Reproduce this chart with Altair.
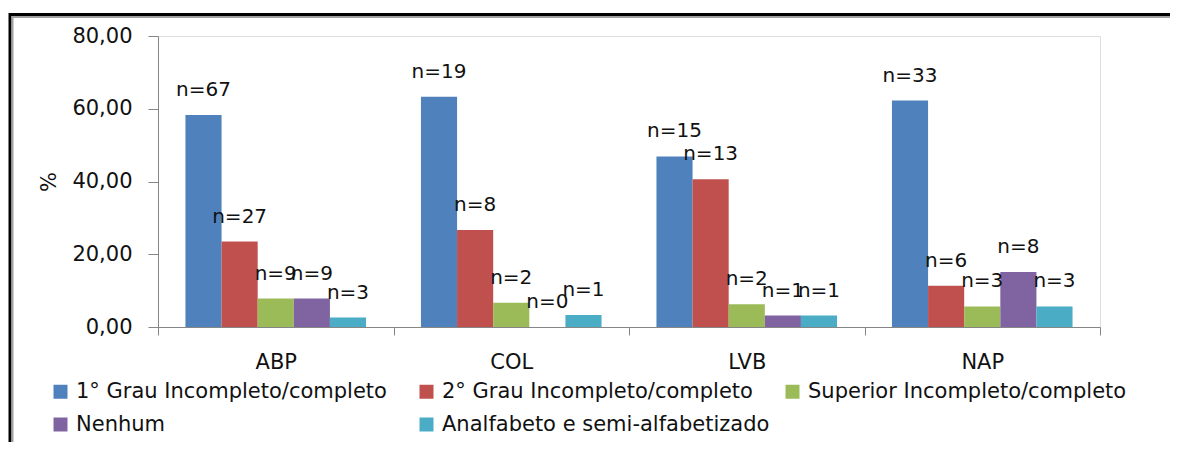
import altair as alt
import pandas as pd

groups = ["ABP", "COL", "LVB", "NAP"]
series = [
    "1° Grau Incompleto/completo",
    "2° Grau Incompleto/completo",
    "Superior Incompleto/completo",
    "Nenhum",
    "Analfabeto e semi-alfabetizado",
]
colors = ["#4F81BD", "#C0504D", "#9BBB59", "#8064A2", "#4BACC6"]

# percentage per series, one value per group (ABP, COL, LVB, NAP)
pct_1grau = [58.26, 63.33, 46.88, 62.26]
pct_2grau = [23.48, 26.67, 40.63, 11.32]
pct_superior = [7.83, 6.67, 6.25, 5.66]
pct_nenhum = [7.83, 0.00, 3.13, 15.09]
pct_analf = [2.61, 3.33, 3.13, 5.66]

n_1grau = [67, 19, 15, 33]
n_2grau = [27, 8, 13, 6]
n_superior = [9, 2, 2, 3]
n_nenhum = [9, 0, 1, 8]
n_analf = [3, 1, 1, 3]

pcts = [pct_1grau, pct_2grau, pct_superior, pct_nenhum, pct_analf]
ns = [n_1grau, n_2grau, n_superior, n_nenhum, n_analf]

rows = []
for si, s in enumerate(series):
    for gi, g in enumerate(groups):
        rows.append({"grupo": g, "serie": s, "pct": pcts[si][gi],
                     "label": f"n={ns[si][gi]}"})
df = pd.DataFrame(rows)

FONT = "DejaVu Sans"
W, H = 942, 291

x_enc = alt.X("grupo:N", sort=groups,
              scale=alt.Scale(paddingInner=0, paddingOuter=0),
              axis=alt.Axis(title=None, labelAngle=0, tickBand="extent",
                            tickSize=8, labelPadding=16, labelFontSize=21,
                            labelFont=FONT, labelColor="#111",
                            domainColor="#868686", tickColor="#868686"))
xo_enc = alt.XOffset("serie:N", sort=series,
                     scale=alt.Scale(paddingOuter=0.76, paddingInner=0))
y_enc = alt.Y("pct:Q",
              scale=alt.Scale(domain=[0, 80], nice=False),
              axis=alt.Axis(title="%", values=[0, 20, 40, 60, 80],
                            labelExpr="replace(format(datum.value, '.2f'), '.', ',')",
                            grid=False, tickSize=10, labelPadding=16,
                            labelFontSize=21, labelFont=FONT, labelColor="#111",
                            titleFontSize=21, titleFont=FONT, titleFontWeight="normal",
                            titleColor="#111", titlePadding=12,
                            domainColor="#868686", tickColor="#868686"))

bars = alt.Chart(df).mark_bar().encode(
    x=x_enc,
    xOffset=xo_enc,
    y=y_enc,
    color=alt.Color("serie:N", sort=series,
                    scale=alt.Scale(domain=series, range=colors),
                    legend=alt.Legend(title=None, orient="none",
                                      legendX=-108, legendY=345,
                                      direction="horizontal",
                                      columns=3, gridAlign="all",
                                      columnPadding=12, rowPadding=11,
                                      symbolType="square", symbolSize=196,
                                      symbolStrokeWidth=0, labelOffset=5,
                                      labelFontSize=21, labelFont=FONT,
                                      labelColor="#111", labelLimit=600)),
)

labels = alt.Chart(df).mark_text(
    baseline="alphabetic", dy=-19, fontSize=20, font=FONT, color="#111"
).encode(
    x=alt.X("grupo:N", sort=groups),
    xOffset=alt.XOffset("serie:N", sort=series),
    y=alt.Y("pct:Q"),
    text="label:N",
)

frame_data = alt.Data(values=[{"k": 1}])
frame_outer = alt.Chart(frame_data).mark_rect(
    filled=False, stroke="#000000", strokeWidth=3
).encode(x=alt.value(-148), x2=alt.value(1300), y=alt.value(-21.5), y2=alt.value(600))
frame_inner = alt.Chart(frame_data).mark_rect(
    filled=False, stroke="#A0A0A0", strokeWidth=2
).encode(x=alt.value(-145.5), x2=alt.value(1300), y=alt.value(-19), y2=alt.value(600))

chart = alt.layer(frame_outer, frame_inner, bars, labels).properties(
    width=W, height=H,
    autosize=alt.AutoSizeParams(type="none"),
    padding={"left": 150, "top": 28, "right": 70, "bottom": 115},
).configure_view(stroke=None).configure(background="white")

chart.save("out.html", embed_options={"renderer": "svg", "actions": False})
